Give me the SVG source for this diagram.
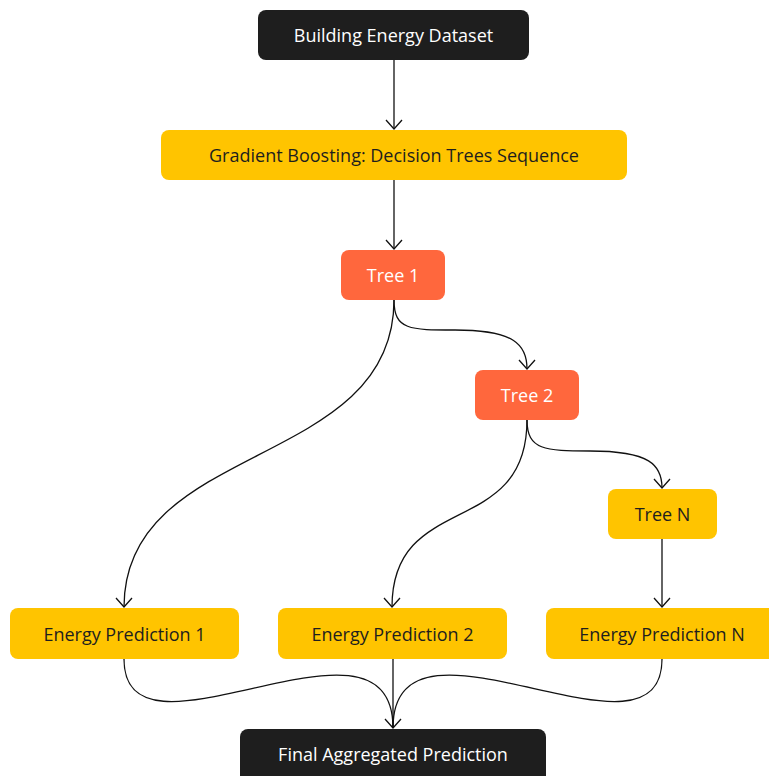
<svg xmlns="http://www.w3.org/2000/svg" width="769" height="776" viewBox="0 0 769 776">
  <style>
    .dark { fill: #1e1e1e; }
    .gold { fill: #ffc400; }
    .coral { fill: #ff673d; }
    text { font-family: "Open Sans", "Noto Sans", sans-serif; font-size: 18px; text-anchor: middle; dominant-baseline: central; }
    .lt { fill: #ffffff; }
    .dk { fill: #1e1e1e; }
    .edge { fill: none; stroke: #111111; stroke-width: 1.3; marker-end: url(#arrow); }
    .plain { fill: none; stroke: #111111; stroke-width: 1.3; }
  </style>
  <defs>
    <marker id="arrow" viewBox="-1 -9 11 18" markerWidth="11" markerHeight="18" refX="9" refY="0" orient="auto" markerUnits="userSpaceOnUse">
      <path d="M0,-8 L9,0 L0,8" fill="none" stroke="#111111" stroke-width="1.3"/>
    </marker>
  </defs>

  <!-- connectors -->
  <g id="connectors">
    <path class="edge" d="M394,60 L394,129"/>
    <path class="edge" d="M394,180 L394,249"/>
    <path class="edge" d="M394,300 C394,330 410,330 455,330 C515,330 527,345 527,369"/>
    <path class="edge" d="M394,300 C394,470 124,440 124,607"/>
    <path class="edge" d="M527,420 C527,540 392,490 392,607"/>
    <path class="edge" d="M527,420 C527,450 545,451 590,451 C650,451 662,465 662,488"/>
    <path class="edge" d="M662,539 L662,607"/>
    <path class="plain" d="M124,659 C124,780 393,590 393,728"/>
    <path class="edge" d="M393,659 L393,728"/>
    <path class="plain" d="M662,659 C662,780 393,590 393,728"/>
  </g>

  <g id="dataset">
    <rect class="dark" x="258" y="10" width="271" height="50" rx="8"/>
    <text class="lt" x="393.5" y="35">Building Energy Dataset</text>
  </g>
  <g id="boosting">
    <rect class="gold" x="161" y="130" width="466" height="50" rx="8"/>
    <text class="dk" x="394" y="155">Gradient Boosting: Decision Trees Sequence</text>
  </g>
  <g id="tree1">
    <rect class="coral" x="341" y="250" width="104" height="50" rx="8"/>
    <text class="lt" x="393" y="275">Tree 1</text>
  </g>
  <g id="tree2">
    <rect class="coral" x="475" y="370" width="104" height="50" rx="8"/>
    <text class="lt" x="527" y="395">Tree 2</text>
  </g>
  <g id="treeN">
    <rect class="gold" x="608" y="489" width="109" height="50" rx="8"/>
    <text class="dk" x="662.5" y="514">Tree N</text>
  </g>
  <g id="pred1">
    <rect class="gold" x="10" y="608" width="229" height="51" rx="8"/>
    <text class="dk" x="124.5" y="634">Energy Prediction 1</text>
  </g>
  <g id="pred2">
    <rect class="gold" x="278" y="608" width="229" height="51" rx="8"/>
    <text class="dk" x="392.5" y="634">Energy Prediction 2</text>
  </g>
  <g id="predN">
    <rect class="gold" x="546" y="608" width="231" height="51" rx="8"/>
    <text class="dk" x="662" y="634">Energy Prediction N</text>
  </g>
  <g id="final">
    <rect class="dark" x="240" y="729" width="306" height="60" rx="8"/>
    <text class="lt" x="393" y="754">Final Aggregated Prediction</text>
  </g>
</svg>
